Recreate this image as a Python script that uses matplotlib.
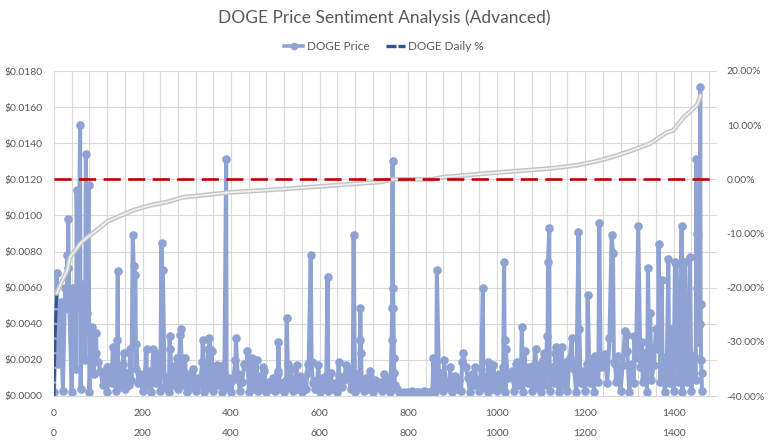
import matplotlib
matplotlib.use("Agg")
import matplotlib.pyplot as plt
from matplotlib.lines import Line2D
from matplotlib.ticker import FuncFormatter, MultipleLocator, FixedLocator

plt.rcParams["font.family"] = ["Lato", "DejaVu Sans"]

# DOGE price, units of $0.0001, base level every 5 days (chunk start index, values)
price_base = [
    (0, "2 45 18 52 3 60 25 48 2 58 15 50 4 62 20 46 2 38 12 35 "
        "3 14 6 11 2 16 7 12 3 10 5 18 4 13 6 9 2 15 7 12"),
    (200, "3 11 6 14 2 9 7 20 3 12 5 10 2 13 6 17 4 11 6 9 2 12 5 15 3 10 6 19 2 11 5 13 3 9 6 14 2 12 5 10"),
    (400, "2 9 4 12 3 8 5 16 2 10 4 7 3 11 5 14 2 8 4 10 3 12 4 7 2 9 5 15 3 8 4 11 2 10 4 13 3 7 4 9"),
    (600, "2 10 4 8 3 13 4 7 2 11 5 9 3 15 4 8 2 12 5 7 3 10 4 14 2 9 5 8 3 12 4 10 2 8 6 4 2 1 2 1"),
    (800, "2 1 3 1 2 2 1 3 2 1 2 3 "
          "2 10 5 13 3 8 6 16 2 11 4 9 3 14 5 10 2 12 6 8 3 15 5 11 2 13 4 9"),
    (1000, "3 12 5 16 2 10 6 14 3 19 6 11 2 15 7 13 3 17 5 12 2 20 6 14 3 16 7 12 2 18 6 13 3 21 5 15 2 17 7 14"),
    (1200, "3 18 7 14 2 20 8 16 3 23 7 15 2 19 8 22 3 17 9 25 2 18 7 21 3 16 8 24 2 20 9 17 3 26 8 19 2 22 7 18"),
    (1400, "3 21 8 27 2 19 8 24 3 22 9 18 4"),
]

# visible spikes (day index, price in $0.0001)
spike_days = [6, 29, 30, 31, 32, 44, 51, 59, 66, 72, 78, 89, 96, 100, 119, 133, 143, 144,
              158, 172, 178, 180, 184, 186, 209, 224, 229, 243, 246, 261, 263, 277, 285,
              286, 296, 336, 348, 351, 353, 356, 368, 382, 389, 410, 411, 430, 437, 447,
              458, 473, 506, 507, 526, 528, 548, 573, 580, 582, 597, 614, 618, 643, 660,
              662, 677, 691, 692, 694, 714, 744, 763, 764, 765, 766, 767, 768, 769, 857,
              864, 865, 881, 893, 922, 925, 930, 951, 969, 981, 993, 1017, 1018, 1021,
              1030, 1044, 1057, 1064, 1073, 1088, 1093, 1107, 1114, 1116, 1119, 1132,
              1134, 1136, 1147, 1157, 1170, 1171, 1185, 1187, 1206, 1219, 1222, 1232,
              1240, 1255, 1260, 1263, 1268, 1290, 1294, 1311, 1320, 1324, 1329, 1342,
              1347, 1360, 1366, 1373, 1388, 1392, 1395, 1403, 1406, 1408, 1416, 1418,
              1421, 1426, 1437, 1451, 1452, 1453, 1455, 1456, 1458, 1459, 1460, 1461,
              1462, 1463, 1464]
spike_vals = [68, 50, 78, 71, 98, 60, 114, 150, 57, 134, 117, 33, 24, 19, 16, 27, 31, 69,
              24, 26, 89, 72, 67, 29, 26, 26, 24, 85, 70, 33, 26, 21, 34,
              37, 21, 31, 26, 32, 26, 25, 17, 17, 131, 20, 32, 18, 25, 21,
              20, 16, 14, 30, 43, 18, 17, 18, 78, 19, 17, 11, 66, 19, 17,
              13, 89, 31, 49, 24, 11, 6, 31, 49, 130, 60, 49, 21, 13, 21,
              19, 70, 20, 5, 19, 24, 16, 16, 60, 19, 17, 74, 31, 26,
              13, 18, 38, 25, 16, 26, 17, 24, 33, 74, 93, 24,
              27, 25, 27, 19, 32, 18, 91, 37, 56, 21, 22, 96,
              18, 32, 89, 79, 18, 36, 34, 33, 94, 30, 30, 71,
              46, 37, 84, 64, 76, 36, 37, 74, 73, 50, 54, 94,
              74, 74, 77, 131, 90, 60, 30, 89, 50, 40, 171, 51,
              20, 13, 3]

# DOGE daily % change, sorted (day index, percent)
daily_days = [0, 2, 6, 14, 30, 36, 60, 66, 104, 120, 142, 179, 217, 255, 292, 330, 398,
              500, 601, 737, 766, 856, 879, 1008, 1121, 1182, 1234, 1272, 1308, 1347,
              1385, 1399, 1421, 1453, 1461]
daily_pct = [-40, -30, -21, -19.5, -16.8, -14.4, -11.8, -11.3, -8.9, -7.8, -7.0, -5.7,
             -4.8, -4.2, -3.3, -3.0, -2.4, -1.9, -1.3, -0.5, 0, 0, 0.4, 1.3, 2.0, 2.6,
             3.5, 4.4, 5.4, 6.6, 8.7, 9.0, 11.3, 13.7, 15.5]

x_ticks = [0, 200, 400, 600, 800, 1000, 1200, 1400]

price = {}
for start, vals in price_base:
    for k, v in enumerate(vals.split()):
        price[start + 5 * k] = float(v)
for d, v in zip(spike_days, spike_vals):
    price[d] = float(v)
days = sorted(price)
prices = [price[d] * 1e-4 for d in days]

grey = "#595959"
price_color = "#8FA2D4"
daily_color = "#2F5597"

fig = plt.figure(figsize=(7.68, 4.45), dpi=100)
ax = fig.add_axes([54 / 768, 1 - 396 / 445, (717 - 54) / 768, (396 - 71) / 445])
ax2 = ax.twinx()

ax.plot(days, prices, color=price_color, lw=2.9, marker="o", ms=6.2,
        markeredgewidth=0, solid_joinstyle="round")

# sorted daily % line
ax2.plot(daily_days[:3], daily_pct[:3], color=daily_color, lw=2.2, ls=(0, (4, 0.8)))
ax2.plot(daily_days[2:], daily_pct[2:], color="#C4C4C4", lw=3.4, solid_capstyle="round")
ax2.plot(daily_days[2:], daily_pct[2:], color="#EFEFEF", lw=1.3, solid_capstyle="round")
ax2.axhline(0, color="#C00000", lw=1.9, ls=(0, (6.5, 2.8)))

ax.set_xlim(0, 1498)
ax.set_ylim(0, 0.018)
ax2.set_ylim(-40, 20)

ax.yaxis.set_major_locator(MultipleLocator(0.002))
ax.yaxis.set_major_formatter(FuncFormatter(lambda v, p: f"${v:.4f}"))
ax2.yaxis.set_major_locator(MultipleLocator(10))
ax2.yaxis.set_major_formatter(FuncFormatter(lambda v, p: f"{v:.2f}%"))
ax.xaxis.set_major_locator(FixedLocator(x_ticks))
ax.xaxis.set_minor_locator(MultipleLocator(40))

ax.grid(True, which="major", axis="y", color="#D9D9D9", lw=0.8)
ax.grid(True, which="both", axis="x", color="#D9D9D9", lw=0.8)
ax.set_axisbelow(True)

for a in (ax, ax2):
    for s in a.spines.values():
        s.set_visible(False)
ax.spines["bottom"].set_visible(True)
ax.spines["bottom"].set_color("#D9D9D9")

ax.tick_params(axis="both", which="both", length=0, labelsize=7.5, labelcolor=grey)
ax.tick_params(axis="x", pad=9)
ax.tick_params(axis="y", pad=8)
ax2.tick_params(axis="y", length=0, labelsize=7.5, labelcolor=grey, pad=7)

sec = ax.secondary_xaxis(-0.062)
sec.xaxis.set_major_locator(FixedLocator(x_ticks))
sec.tick_params(length=0, labelsize=7.5, labelcolor=grey, pad=9)
sec.spines["bottom"].set_visible(False)

fig.text(0.5, 1 - 18 / 445, "DOGE Price Sentiment Analysis (Advanced)", ha="center",
         va="center", fontsize=12.5, color=grey)

handles = [
    Line2D([], [], color=price_color, lw=2.6, marker="o", ms=5.5, markeredgewidth=0),
    Line2D([], [], color=daily_color, lw=2.4, ls=(0, (3, 0.6))),
]
fig.legend(handles, ["DOGE Price", "DOGE Daily %"], loc="center", ncol=2,
           bbox_to_anchor=(0.5, 1 - 47 / 445), frameon=False, fontsize=8.5,
           labelcolor=grey, handlelength=1.6, handletextpad=0.3, columnspacing=1.4)

fig.savefig("out.png", dpi=100)
